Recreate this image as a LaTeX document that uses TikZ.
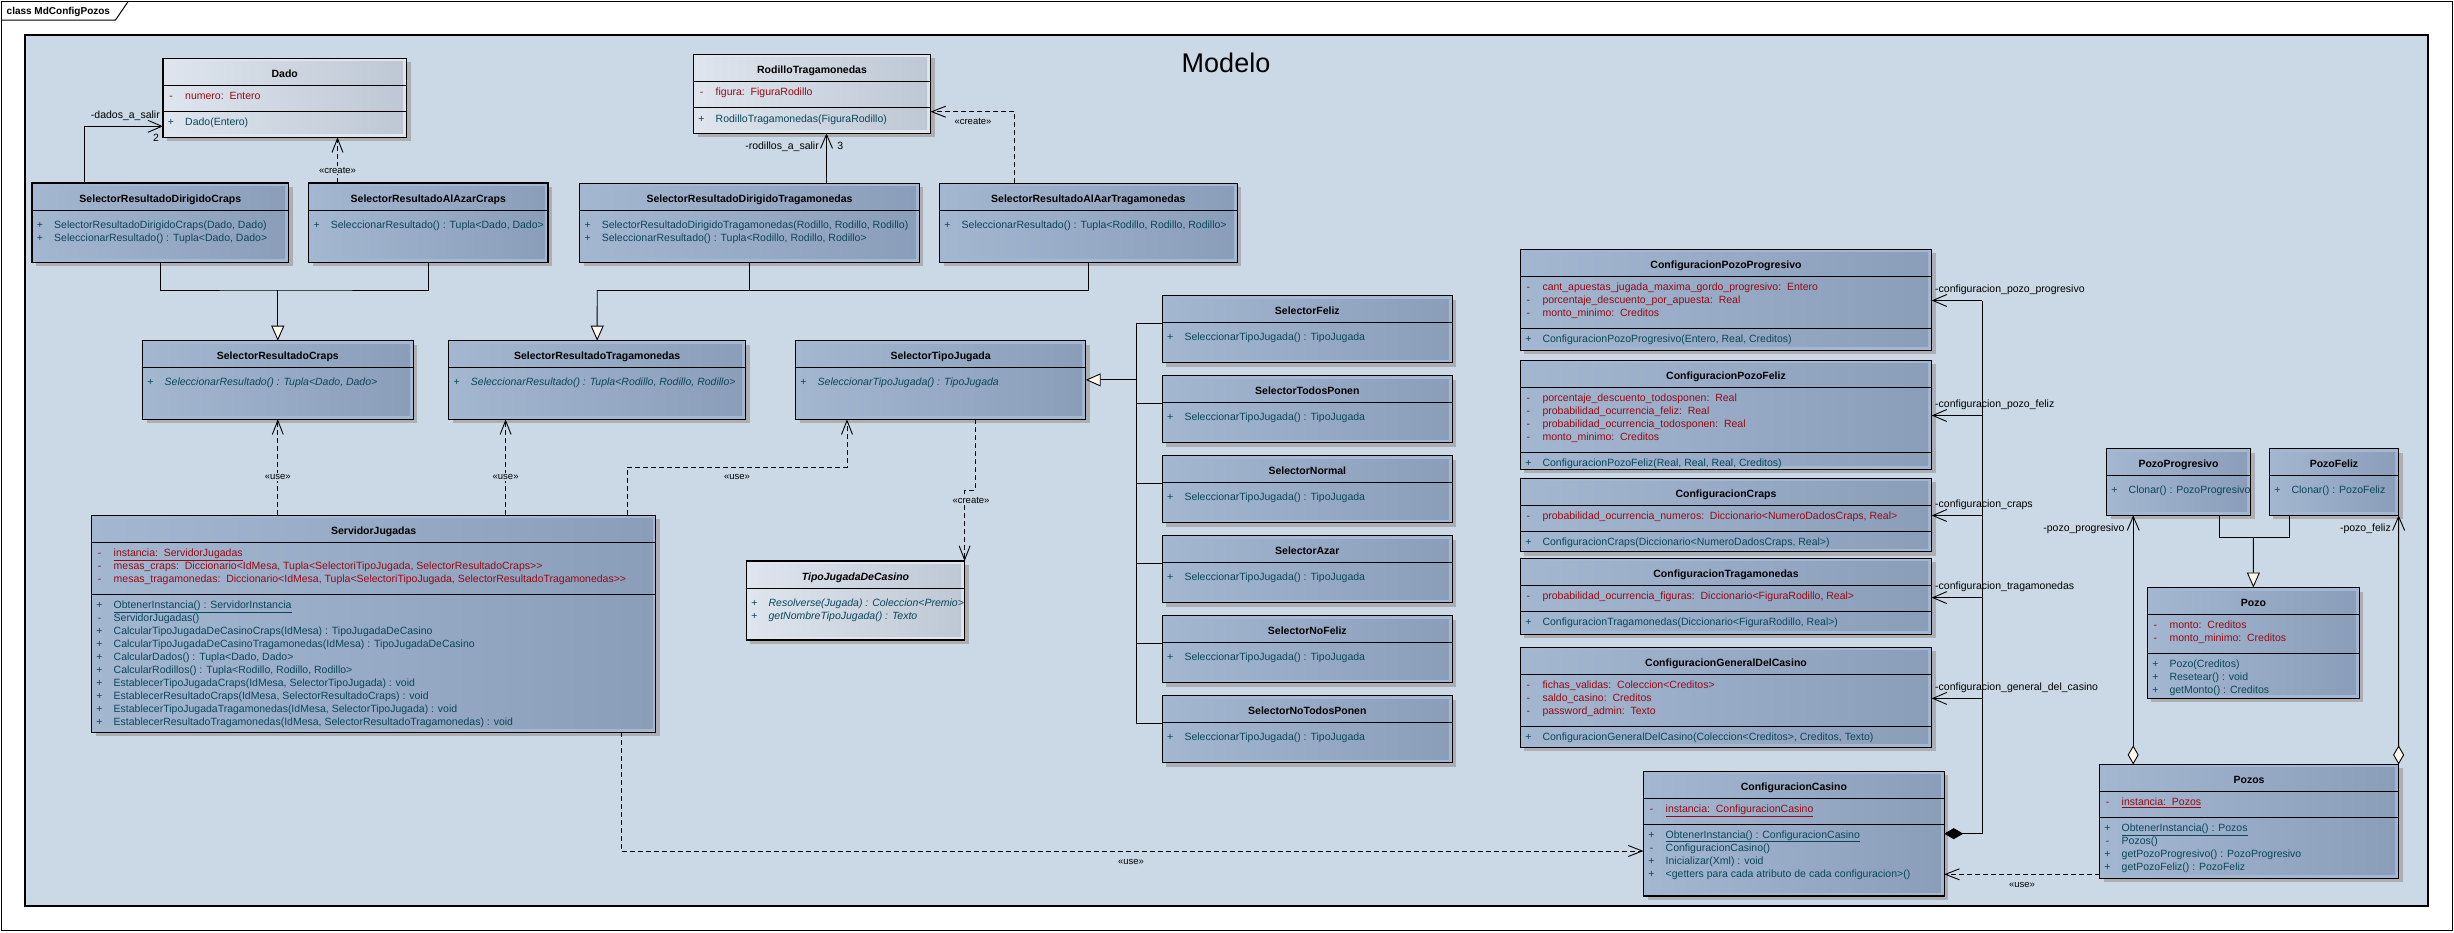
\documentclass[tikz,border=0pt]{standalone}
\usepackage{fontspec}
\setmainfont{Liberation Sans}
\usetikzlibrary{arrows.meta}

\definecolor{modelbg}{RGB}{203,217,230}
\definecolor{dkL}{RGB}{163,183,209}
\definecolor{dkR}{RGB}{138,158,186}
\definecolor{ltL}{RGB}{222,229,238}
\definecolor{ltR}{RGB}{190,200,212}
\definecolor{attcol}{RGB}{150,10,20}
\definecolor{opecol}{RGB}{10,70,90}
\definecolor{shadowc}{RGB}{172,174,178}
\definecolor{genfill}{RGB}{255,248,236}

\newcommand{\umlfont}{\fontsize{10.5}{12.6}\selectfont}

\tikzset{
  classframe/.style={draw=black, line width=1.1pt, inner sep=0pt, outer sep=0pt, rectangle},
  sepline/.style={line width=1pt},
  hdrtext/.style={font=\umlfont\bfseries, inner sep=0pt},
  att/.style={text=attcol, font=\umlfont, inner sep=0pt},
  ope/.style={text=opecol, font=\umlfont, inner sep=0pt},
  role/.style={font=\umlfont, inner sep=0pt},
  stereo/.style={font=\fontsize{9.5}{11}\selectfont, inner sep=1pt},
  conn/.style={line width=0.9pt},
  assoc/.style={conn, -{Straight Barb[length=14pt,width=12pt]}},
  dep/.style={conn, dash pattern=on 5pt off 3pt, -{Straight Barb[length=14pt,width=11pt]}},
  gen/.style={conn, -{Triangle[length=15pt,width=13pt,fill=genfill]}},
  comp/.style={conn, {Diamond[length=19pt,width=11pt]}-},
  aggr/.style={conn, {Diamond[length=19pt,width=11pt,fill=genfill]}-{Straight Barb[length=14pt,width=12pt]}},
}

% class box: name, x1, y1, x2, y2, palette (dk/lt), header bottom, other separators, title
\newcommand{\classbox}[9]{%
  \fill[shadowc] ({#2+4},{#3+4}) rectangle ({#4+4},{#5+4});
  \fill[#6L] (#2,#3) rectangle (#4,#5);
  \shade[left color=#6L,right color=#6R] (#2,{#3+3.5}) rectangle ({#4-3.5},{#5-3.5});
  \foreach \yy in {#8}{\draw[sepline] (#2,\yy) -- (#4,\yy);}
  \draw[sepline] (#2,#7) -- (#4,#7);
  \node[classframe, minimum width={(#4-#2)*1pt}, minimum height={(#5-#3)*1pt}] (#1) at ({(#2+#4)/2},{(#3+#5)/2}) {};
  \node[hdrtext, anchor=base] (#1-name) at ({(#2+#4)/2},{#7-8}) {#9};
}

% member lines: prefix, style, box left x, first baseline, list of sign/text
\newcommand{\members}[5]{%
  \foreach \msign/\mtext [count=\mi] in {#5}{
    \node[#2, anchor=base] (#1\mi-sg) at ({#3+8},{#4+13*(\mi-1)}) {\msign};
    \node[#2, anchor=base west] (#1\mi) at ({#3+22},{#4+13*(\mi-1)}) {\mtext};
  }
}

\begin{document}
\begin{tikzpicture}[x=1pt,y=-1pt]
\useasboundingbox (0,0) rectangle (2454,932);
\fill[white] (0,0) rectangle (2454,932);

% diagram frame and package area
\draw[line width=1.3pt] (1.2,1.7) rectangle (2452.6,930.8);
\draw[line width=1pt] (1.2,20) -- (115.5,20) -- (128,1.7);
\node[anchor=base west, font=\fontsize{10}{12}\selectfont\bfseries, inner sep=0pt] (frame-title) at (6.5,14.5) {class MdConfigPozos};
\fill[modelbg] (25,35) rectangle (2428,906);
\draw[line width=1.3pt] (25,35) rectangle (2428,906);
\node[font=\fontsize{27}{30}\selectfont, anchor=base, inner sep=0pt] (modelo-title) at (1226,72.5) {Modelo};

% ---------- classes ----------
\classbox{dado}{163}{58.3}{406.5}{137.3}{lt}{85.3}{111.3}{Dado}
\members{dado-a}{att}{163}{99.4}{-/{numero:~~Entero}}
\members{dado-o}{ope}{163}{125.4}{+/{Dado(Entero)}}

\classbox{rod}{693.5}{54.3}{930.5}{133.3}{lt}{81.7}{107.3}{RodilloTragamonedas}
\members{rod-a}{att}{693.5}{95.4}{-/{figura:~~FiguraRodillo}}
\members{rod-o}{ope}{693.5}{122}{+/{RodilloTragamonedas(FiguraRodillo)}}

\classbox{srdc}{32}{183}{288.6}{262.3}{dk}{210.3}{210.3}{SelectorResultadoDirigidoCraps}
\members{srdc-o}{ope}{32}{228}{+/{SelectorResultadoDirigidoCraps(Dado, Dado)}, +/{SeleccionarResultado() : Tupla<Dado, Dado>}}

\classbox{sraac}{308.6}{183}{548}{262.3}{dk}{210.3}{210.3}{SelectorResultadoAlAzarCraps}
\members{sraac-o}{ope}{308.6}{228}{+/{SeleccionarResultado() : Tupla<Dado, Dado>}}

\classbox{srdt}{579.6}{183.3}{919.4}{262.3}{dk}{210.7}{210.7}{SelectorResultadoDirigidoTragamonedas}
\members{srdt-o}{ope}{579.6}{228}{+/{SelectorResultadoDirigidoTragamonedas(Rodillo, Rodillo, Rodillo)}, +/{SeleccionarResultado() : Tupla<Rodillo, Rodillo, Rodillo>}}

\classbox{sraat}{939.5}{183.3}{1237.2}{262.3}{dk}{210.7}{210.7}{SelectorResultadoAlAarTragamonedas}
\members{sraat-o}{ope}{939.5}{228}{+/{SeleccionarResultado() : Tupla<Rodillo, Rodillo, Rodillo>}}

\classbox{src}{142.5}{340.7}{413.1}{419.3}{dk}{367.3}{367.3}{SelectorResultadoCraps}
\members{src-o}{ope}{142.5}{385.4}{+/{\itshape SeleccionarResultado() : Tupla<Dado, Dado>}}

\classbox{srt}{448.75}{340.7}{745.6}{419.3}{dk}{367.3}{367.3}{SelectorResultadoTragamonedas}
\members{srt-o}{ope}{448.75}{385.4}{+/{\itshape SeleccionarResultado() : Tupla<Rodillo, Rodillo, Rodillo>}}

\classbox{stj}{795.5}{340.5}{1085.7}{419.3}{dk}{367.3}{367.3}{SelectorTipoJugada}
\members{stj-o}{ope}{795.5}{385.4}{+/{\itshape SeleccionarTipoJugada() : TipoJugada}}

\classbox{tjdc}{746.4}{561}{964.6}{640}{lt}{588.3}{588.3}{\itshape TipoJugadaDeCasino}
\members{tjdc-o}{ope}{746.4}{606.4}{+/{\itshape Resolverse(Jugada) : Coleccion<Premio>}, +/{\itshape getNombreTipoJugada() : Texto}}

\classbox{sj}{91.5}{515.3}{655.9}{732.3}{dk}{542.3}{594.3}{ServidorJugadas}
\members{sj-a}{att}{91.5}{556.4}{-/{\underline{instancia:~~ServidorJugadas}}, -/{mesas\_craps:~~Diccionario<IdMesa, Tupla<SelectoriTipoJugada, SelectorResultadoCraps>{}>}, -/{mesas\_tragamonedas:~~Diccionario<IdMesa, Tupla<SelectoriTipoJugada, SelectorResultadoTragamonedas>{}>}}
\members{sj-o}{ope}{91.5}{608.4}{+/{\underline{ObtenerInstancia() : ServidorInstancia}}, -/{ServidorJugadas()}, +/{CalcularTipoJugadaDeCasinoCraps(IdMesa) : TipoJugadaDeCasino}, +/{CalcularTipoJugadaDeCasinoTragamonedas(IdMesa) : TipoJugadaDeCasino}, +/{CalcularDados() : Tupla<Dado, Dado>}, +/{CalcularRodillos() : Tupla<Rodillo, Rodillo, Rodillo>}, +/{EstablecerTipoJugadaCraps(IdMesa, SelectorTipoJugada) : void}, +/{EstablecerResultadoCraps(IdMesa, SelectorResultadoCraps) : void}, +/{EstablecerTipoJugadaTragamonedas(IdMesa, SelectorTipoJugada) : void}, +/{EstablecerResultadoTragamonedas(IdMesa, SelectorResultadoTragamonedas) : void}}

% concrete play-type selectors
\foreach \nm/\lbl [count=\k from 0] in {self/SelectorFeliz, seltp/SelectorTodosPonen, selno/SelectorNormal, selaz/SelectorAzar, selnf/SelectorNoFeliz, selntp/SelectorNoTodosPonen}{
  \pgfmathsetmacro\ty{295.5+80*\k}
  \classbox{\nm}{1162.3}{\ty}{1452.3}{\ty+67}{dk}{\ty+27}{\ty+27}{\lbl}
  \members{\nm-o}{ope}{1162.3}{\ty+45.1}{+/{SeleccionarTipoJugada() : TipoJugada}}
}

% configuration classes
\classbox{cpp}{1520.3}{249.3}{1931.7}{350.3}{dk}{276.3}{328.3}{ConfiguracionPozoProgresivo}
\members{cpp-a}{att}{1520.3}{290.4}{-/{cant\_apuestas\_jugada\_maxima\_gordo\_progresivo:~~Entero}, -/{porcentaje\_descuento\_por\_apuesta:~~Real}, -/{monto\_minimo:~~Creditos}}
\members{cpp-o}{ope}{1520.3}{342.4}{+/{ConfiguracionPozoProgresivo(Entero, Real, Creditos)}}

\classbox{cpf}{1520.3}{360.3}{1931.7}{469.3}{dk}{387.3}{452.3}{ConfiguracionPozoFeliz}
\members{cpf-a}{att}{1520.3}{401.4}{-/{porcentaje\_descuento\_todosponen:~~Real}, -/{probabilidad\_ocurrencia\_feliz:~~Real}, -/{probabilidad\_ocurrencia\_todosponen:~~Real}, -/{monto\_minimo:~~Creditos}}
\members{cpf-o}{ope}{1520.3}{466.4}{+/{ConfiguracionPozoFeliz(Real, Real, Real, Creditos)}}

\classbox{ccr}{1520.3}{478.3}{1931.7}{551.7}{dk}{505.7}{531.7}{ConfiguracionCraps}
\members{ccr-a}{att}{1520.3}{519.4}{-/{probabilidad\_ocurrencia\_numeros:~~Diccionario<NumeroDadosCraps, Real>}}
\members{ccr-o}{ope}{1520.3}{545.4}{+/{ConfiguracionCraps(Diccionario<NumeroDadosCraps, Real>)}}

\classbox{ctr}{1520.3}{558.3}{1931.7}{634.3}{dk}{585.3}{611.3}{ConfiguracionTragamonedas}
\members{ctr-a}{att}{1520.3}{599.4}{-/{probabilidad\_ocurrencia\_figuras:~~Diccionario<FiguraRodillo, Real>}}
\members{ctr-o}{ope}{1520.3}{625.4}{+/{ConfiguracionTragamonedas(Diccionario<FiguraRodillo, Real>)}}

\classbox{cgc}{1520.3}{647.3}{1931.7}{747.3}{dk}{674.7}{726.3}{ConfiguracionGeneralDelCasino}
\members{cgc-a}{att}{1520.3}{688.4}{-/{fichas\_validas:~~Coleccion<Creditos>}, -/{saldo\_casino:~~Creditos}, -/{password\_admin:~~Texto}}
\members{cgc-o}{ope}{1520.3}{740.4}{+/{ConfiguracionGeneralDelCasino(Coleccion<Creditos>, Creditos, Texto)}}

\classbox{cc}{1643.5}{771.3}{1944.2}{896}{dk}{798.3}{824}{ConfiguracionCasino}
\members{cc-a}{att}{1643.5}{812.7}{-/{\underline{instancia:~~ConfiguracionCasino}}}
\members{cc-o}{ope}{1643.5}{838}{+/{\underline{ObtenerInstancia() : ConfiguracionCasino}}, -/{ConfiguracionCasino()}, +/{Inicializar(Xml) : void}, +/{<getters para cada atributo de cada configuracion>()}}

% jackpots
\classbox{pp}{2106.5}{448.5}{2250.5}{515.3}{dk}{475.5}{475.5}{PozoProgresivo}
\members{pp-o}{ope}{2106.5}{493.7}{+/{Clonar() : PozoProgresivo}}

\classbox{pf}{2269.3}{448.5}{2398.6}{515.3}{dk}{475.5}{475.5}{PozoFeliz}
\members{pf-o}{ope}{2269.3}{493.7}{+/{Clonar() : PozoFeliz}}

\classbox{pozo}{2147.3}{587.5}{2359.4}{698.4}{dk}{614.4}{653.6}{Pozo}
\members{pozo-a}{att}{2147.3}{628}{-/{monto:~~Creditos}, -/{monto\_minimo:~~Creditos}}
\members{pozo-o}{ope}{2147.3}{667}{+/{Pozo(Creditos)}, +/{Resetear() : void}, +/{getMonto() : Creditos}}

\classbox{pozos}{2099.5}{764.4}{2398.6}{878.3}{dk}{791.3}{817}{Pozos}
\members{pozos-a}{att}{2099.5}{805.7}{-/{\underline{instancia:~~Pozos}}}
\members{pozos-o}{ope}{2099.5}{831.4}{+/{\underline{ObtenerInstancia() : Pozos}}, -/{Pozos()}, +/{getPozoProgresivo() : PozoProgresivo}, +/{getPozoFeliz() : PozoFeliz}}

% ---------- relations ----------
% dice and reels
\draw[assoc] ([xshift=52pt]srdc.north west) |- ([yshift=11pt]dado.south west);
\node[role, anchor=base east] (lbl-dados) at (160,118.7) {-dados\_a\_salir};
\node[role, anchor=base] (lbl-dados-m) at (156,141) {2};
\draw[dep] ([xshift=28.9pt]sraac.north west) -- ([xshift=174.5pt]dado.south west);
\node[stereo, fill=modelbg] (st-create1) at (337.5,170) {«create»};

\draw[assoc] ([xshift=246.9pt]srdt.north west) -- ([xshift=133pt]rod.south west);
\node[role, anchor=base east] (lbl-rod) at (819,149.7) {-rodillos\_a\_salir};
\node[role, anchor=base] (lbl-rod-m) at (840.4,149.7) {3};
\draw[dep] ([xshift=75pt]sraat.north west) |- ([yshift=-57.4pt]rod.north east);
\node[stereo] (st-create2) at (973,121.7) {«create»};

% result selector hierarchies
\coordinate (gcj) at (277.8,290);
\draw[conn] (srdc.south) |- (gcj) -| (sraac.south);
\draw[gen] (gcj) -- (src.north);
\coordinate (gtj) at (597.2,290);
\draw[conn] (srdt.south) |- (gtj);
\draw[conn] (sraat.south) |- (gtj);
\draw[gen] (gtj) -- (srt.north);

% play-type selector hierarchy
\coordinate (sbT) at (1136.3,323.3);
\coordinate (sbB) at (1136.3,723.3);
\draw[conn] (sbT) -- (sbB);
\foreach \nm in {self,seltp,selno,selaz,selnf,selntp}{
  \draw[conn] ([yshift=-28pt]\nm.north west) -- ++(-26,0);
}
\draw[gen] (stj.east -| sbT) -- (stj.east);

% server dependencies
\draw[dep] (src.south |- sj.north) -- (src.south);
\node[stereo, fill=modelbg] (st-use1) at (277.8,477) {«use»};
\draw[dep] ([xshift=414.1pt]sj.north west) -- ([xshift=56.85pt]srt.south west);
\node[stereo, fill=modelbg] (st-use2) at (505.6,477) {«use»};
\coordinate (uj) at (847,467.3);
\draw[dep] ([xshift=535.5pt]sj.north west) |- (uj) -- (stj.south -| uj);
\node[stereo] (st-use3) at (737,477) {«use»};

\coordinate (cj) at (964.6,490);
\draw[dep] ([xshift=179.9pt]stj.south west) |- (cj) -- (tjdc.north east);
\node[stereo, fill=modelbg] (st-create3) at (971,500) {«create»};

\draw[dep] ([xshift=529.5pt]sj.south west) |- ([yshift=45pt]cc.south west);
\node[stereo] (st-use4) at (1131,861.7) {«use»};

\coordinate (pzw) at ([yshift=4pt]pozos.south west);
\draw[dep] (pzw) -- (pzw -| cc.east);
\node[stereo] (st-use5) at (2022,885) {«use»};

% configuration composition
\coordinate (cb1) at (1982.3,300.5);
\coordinate (cb2) at (1982.3,415.5);
\coordinate (cb3) at (1982.3,515.5);
\coordinate (cb4) at (1982.3,597.6);
\coordinate (cb5) at (1982.3,698.4);
\draw[comp] (cc.east) -| (cb1);
\draw[assoc] (cb1) -- (cb1 -| cpp.east);
\draw[assoc] (cb2) -- (cb2 -| cpf.east);
\draw[assoc] (cb3) -- (cb3 -| ccr.east);
\draw[assoc] (cb4) -- (cb4 -| ctr.east);
\draw[assoc] (cb5) -- (cb5 -| cgc.east);
\node[role, anchor=base west] (lbl-c1) at (1935,292.7) {-configuracion\_pozo\_progresivo};
\node[role, anchor=base west] (lbl-c2) at (1935,407.5) {-configuracion\_pozo\_feliz};
\node[role, anchor=base west] (lbl-c3) at (1935,507.5) {-configuracion\_craps};
\node[role, anchor=base west] (lbl-c4) at (1935,589.7) {-configuracion\_tragamonedas};
\node[role, anchor=base west] (lbl-c5) at (1935,690.4) {-configuracion\_general\_del\_casino};

% jackpot aggregation and hierarchy
\draw[aggr] ([xshift=33.7pt]pozos.north west) -- ([xshift=26.7pt]pp.south west);
\draw[aggr] (pozos.north east) -- (pf.south east);
\node[role, anchor=base east] (lbl-pp) at (2124.7,531.7) {-pozo\_progresivo};
\node[role, anchor=base east] (lbl-pf) at (2391,531.7) {-pozo\_feliz};
\coordinate (gpj) at (2253.35,537.6);
\draw[conn] ([xshift=112.9pt]pp.south west) |- (gpj);
\draw[conn] ([xshift=20.1pt]pf.south west) |- (gpj);
\draw[gen] (gpj) -- (pozo.north);
\end{tikzpicture}
\end{document}
